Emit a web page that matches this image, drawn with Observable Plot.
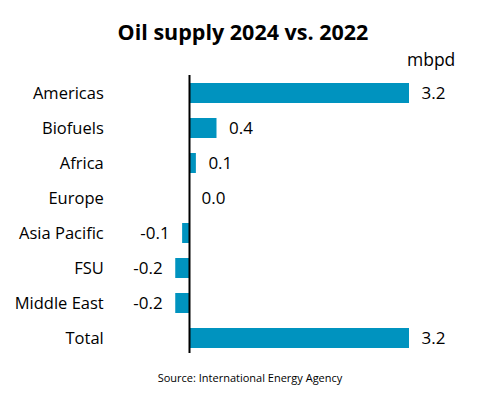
<!DOCTYPE html>
<html>
<head>
<meta charset="utf-8">
<script src="https://cdn.jsdelivr.net/npm/d3@7"></script>
<script src="https://cdn.jsdelivr.net/npm/@observablehq/plot@0.6"></script>
<style>
  html, body { margin: 0; padding: 0; background: #fff; }
  body { width: 486px; height: 398px; overflow: hidden; font-family: "Open Sans", sans-serif; color: #000; }
  #title { height: 62px; box-sizing: border-box; padding-top: 19px; text-align: center; font-weight: bold; font-size: 21.5px; line-height: 26px; }
  #chart { position: relative; height: 300px; }
  #unit { position: absolute; left: 407px; top: -15px; font-size: 17.5px; }
  #source { text-align: center; font-size: 11px; padding-top: 8px; padding-left: 14px; }
</style>
</head>
<body>
<div id="title">Oil supply 2024 vs. 2022</div>
<div id="chart"><div id="unit">mbpd</div></div>
<div id="source">Source: International Energy Agency</div>
<script>
const categories = ["Americas", "Biofuels", "Africa", "Europe", "Asia Pacific", "FSU", "Middle East", "Total"];
const values = [3.2, 0.4, 0.1, 0.0, -0.1, -0.2, -0.2, 3.2];
const data = categories.map((c, i) => ({category: c, value: values[i]}));
const barColor = "#0093bf";

const chart = Plot.plot({
  width: 486,
  height: 300,
  marginTop: 13,
  marginBottom: 6,
  marginLeft: 175.25,
  marginRight: 77,
  style: {fontFamily: "Open Sans, sans-serif", fontSize: "16px", color: "#000", background: "transparent"},
  x: {domain: [-0.2, 3.2], axis: null},
  y: {domain: categories, paddingInner: 0.44, paddingOuter: 0.22, label: null},
  marks: [
    Plot.barX(data, {x: "value", y: "category", fill: barColor}),
    Plot.ruleX([0], {stroke: "#000", strokeWidth: 2, insetBottom: 3}),
    Plot.axisY({tickSize: 0, tickPadding: 72, fontSize: 16.5, label: null}),
    Plot.text(data.filter(d => d.value >= 0), {x: "value", y: "category", text: d => d.value.toFixed(1), textAnchor: "start", dx: 12, fontSize: 17, fill: "#000"}),
    Plot.text(data.filter(d => d.value < 0), {x: "value", y: "category", text: d => d.value.toFixed(1), textAnchor: "end", dx: -13, fontSize: 17, fill: "#000"})
  ]
});
document.getElementById("chart").appendChild(chart);
</script>
</body>
</html>
